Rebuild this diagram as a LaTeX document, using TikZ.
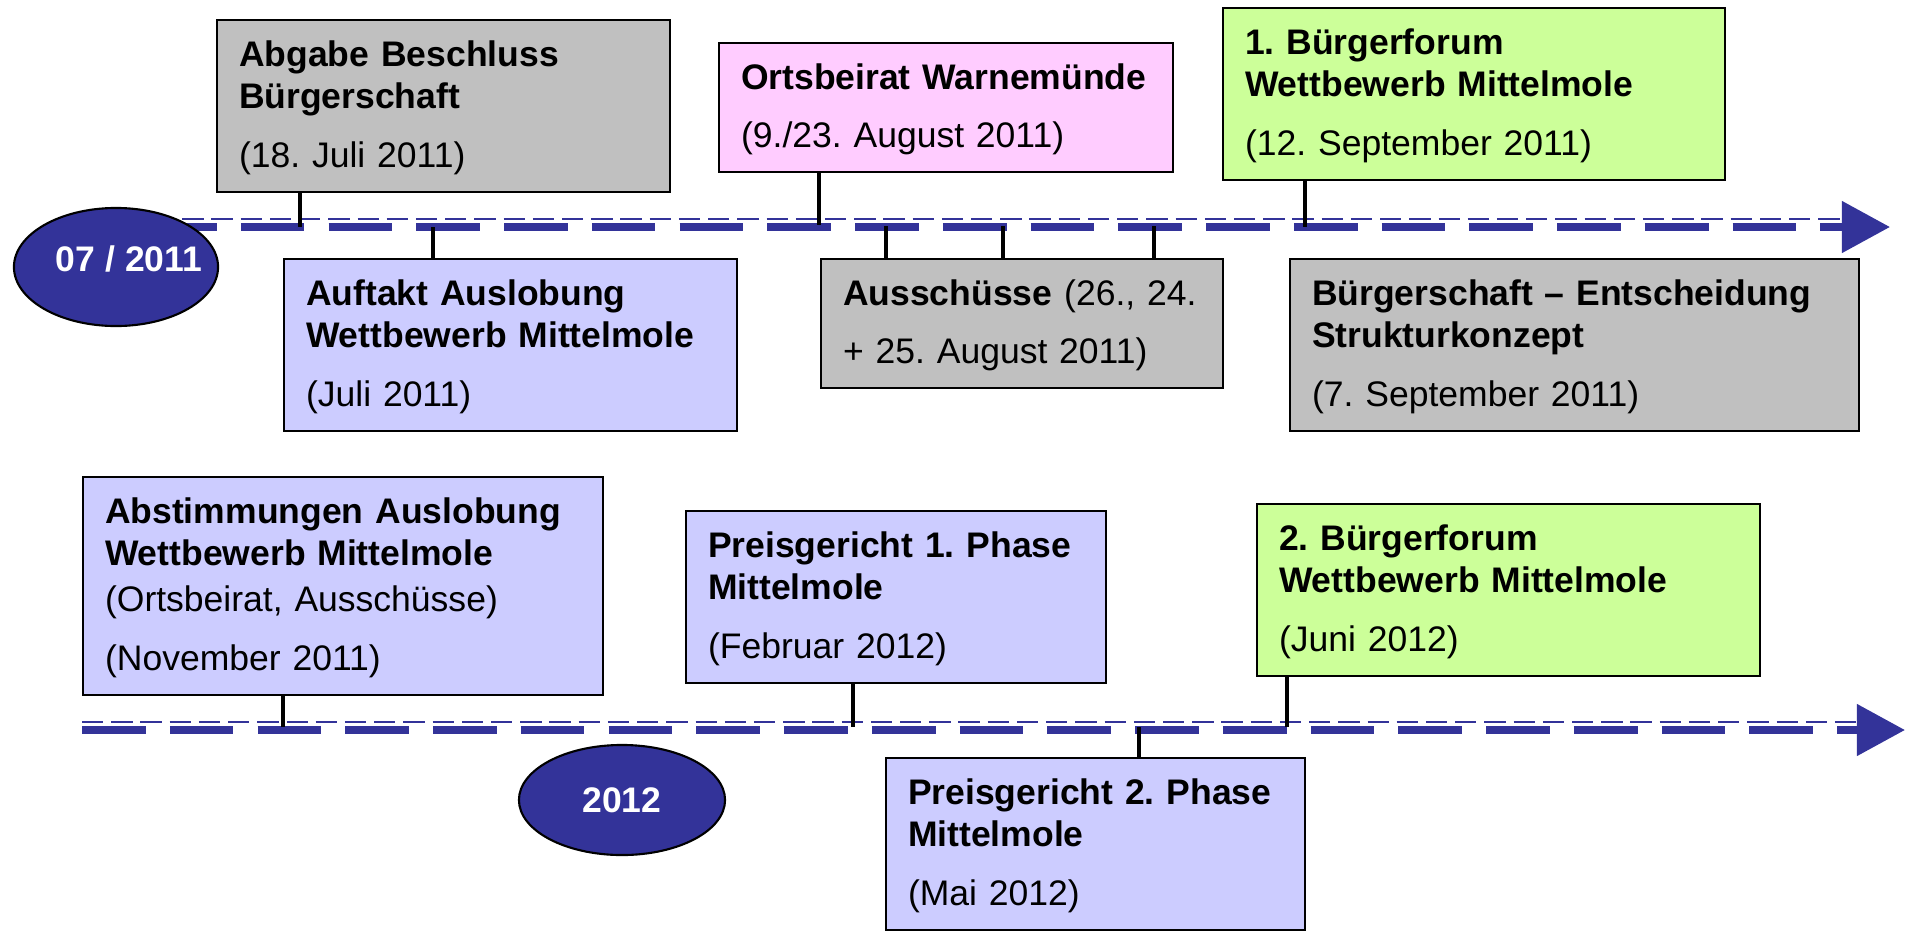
\documentclass[tikz,border=0pt]{standalone}
\usepackage{fontspec}
\setmainfont{Liberation Sans}
\usetikzlibrary{shapes.geometric,arrows.meta}
\definecolor{boxgray}{HTML}{C0C0C0}
\definecolor{boxpink}{HTML}{FFCCFF}
\definecolor{boxgreen}{HTML}{CCFF99}
\definecolor{boxlila}{HTML}{CCCCFF}
\definecolor{lineblue}{HTML}{333399}
\frenchspacing

\begin{document}
\begin{tikzpicture}[x=0.01cm, y=-0.01cm,
    every node/.style={font=\fontsize{10.1}{12.1}\selectfont},
    evbox/.style={rectangle, draw=black, line width=0.6pt, anchor=north west,
        align=left, text width={#1-0.44cm}, inner xsep=0.22cm,
        inner ysep=4.9pt, text height=8.2pt},
    dateoval/.style={ellipse, draw=black, line width=0.6pt, fill=lineblue,
        text=white, inner sep=0pt, font=\fontsize{10.1}{12.1}\selectfont\bfseries},
    thinline/.style={draw=lineblue, line width=0.77pt,
        dash pattern=on 0.213cm off 0.079cm},
    thickline/.style={draw=lineblue, line width=2.2pt,
        dash pattern=on 0.637cm off 0.24cm,
        -{Triangle[length=0.48cm,width=0.5cm]}},
    stem/.style={draw=black, line width=1pt}]

    \useasboundingbox (0,0) rectangle (1906,930);

    % timelines
    \draw[thinline] (153,219) -- (1842,219);
    \draw[thickline] (153,227) -- (1890,227);
    \draw[thinline] (82,722) -- (1858,722);
    \draw[thickline] (82,730) -- (1905,730);

    \node[dateoval, minimum width=2.04cm, minimum height=1.18cm] (jul) at (116,267)
        {\makebox[0pt]{\hspace{0.26cm}\raisebox{-0.047cm}[0pt][0pt]{07 / 2011}}};
    \node[dateoval, minimum width=2.06cm, minimum height=1.10cm] (jahr) at (622,800) {2012};

    % 2011
    \node[evbox=4.53cm, fill=boxgray] (abgabe) at (216,19)
        {{\bfseries Abgabe Beschluss\\Bürgerschaft}\\[4.5pt](18. Juli 2011)};
    \node[evbox=4.54cm, fill=boxpink] (ortsbeirat) at (718,42)
        {{\bfseries Ortsbeirat Warnemünde}\\[4.5pt](9./23. August 2011)};
    \node[evbox=5.02cm, fill=boxgreen] (forum1) at (1222,7)
        {{\bfseries 1. Bürgerforum\\Wettbewerb Mittelmole}\\[4.5pt](12. September 2011)};
    \node[evbox=4.53cm, fill=boxlila] (auftakt) at (283,258)
        {{\bfseries Auftakt Auslobung\\Wettbewerb Mittelmole}\\[4.5pt](Juli 2011)};
    \node[evbox=4.02cm, fill=boxgray] (ausschuss) at (820,258)
        {{\bfseries Ausschüsse} (26., 24.\\[4.5pt]+ 25. August 2011)};
    \node[evbox=5.69cm, fill=boxgray] (entscheid) at (1289,258)
        {{\bfseries Bürgerschaft – Entscheidung\\Strukturkonzept}\\[4.5pt](7. September 2011)};

    % 2012
    \node[evbox=5.20cm, fill=boxlila] (abstimm) at (82,476)
        {{\bfseries Abstimmungen Auslobung\\Wettbewerb Mittelmole}\\[1pt](Ortsbeirat, Ausschüsse)\\[4.5pt](November 2011)};
    \node[evbox=4.20cm, fill=boxlila] (preis1) at (685,510)
        {{\bfseries Preisgericht 1. Phase\\Mittelmole}\\[4.5pt](Februar 2012)};
    \node[evbox=5.03cm, fill=boxgreen] (forum2) at (1256,503)
        {{\bfseries 2. Bürgerforum\\Wettbewerb Mittelmole}\\[4.5pt](Juni 2012)};
    \node[evbox=4.19cm, fill=boxlila] (preis2) at (885,757)
        {{\bfseries Preisgericht 2. Phase\\Mittelmole}\\[4.5pt](Mai 2012)};

    \coordinate (kabgabe) at (300,227);
    \coordinate (kort) at (819,225);
    \coordinate (kforum1) at (1305,227);
    \coordinate (kauftakt) at (433,227);
    \coordinate (kaus1) at (886,226);
    \coordinate (kaus2) at (1003,226);
    \coordinate (kaus3) at (1154,226);
    \coordinate (kabst) at (283,727);
    \coordinate (kpreis1) at (853,727);
    \coordinate (kforum2) at (1287,727);
    \coordinate (kpreis2) at (1139,727);

    \draw[stem] (kabgabe |- abgabe.south) -- (kabgabe);
    \draw[stem] (kort |- ortsbeirat.south) -- (kort);
    \draw[stem] (kforum1 |- forum1.south) -- (kforum1);
    \draw[stem] (kauftakt) -- (kauftakt |- auftakt.north);
    \foreach \k in {kaus1,kaus2,kaus3}
        \draw[stem] (\k) -- (\k |- ausschuss.north);
    \draw[stem] (kabst |- abstimm.south) -- (kabst);
    \draw[stem] (kpreis1 |- preis1.south) -- (kpreis1);
    \draw[stem] (kforum2 |- forum2.south) -- (kforum2);
    \draw[stem] (kpreis2) -- (kpreis2 |- preis2.north);

\end{tikzpicture}
\end{document}
